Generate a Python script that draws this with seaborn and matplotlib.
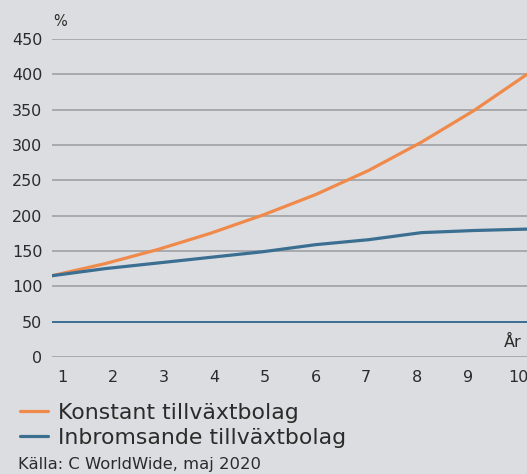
import matplotlib
matplotlib.use("Agg")
import matplotlib.pyplot as plt
from matplotlib.lines import Line2D
import pandas as pd
import seaborn as sns

years = [1, 2, 3, 4, 5, 6, 7, 8, 9, 10]
konstant = [115, 132, 152, 175, 201, 230, 264, 304, 349, 400]
inbromsande = [115, 125, 133, 141, 149, 159, 166, 176, 179, 181]
baseline = 50
yticks = [0, 50, 100, 150, 200, 250, 300, 350, 400, 450]
series_names = ["Konstant tillväxtbolag", "Inbromsande tillväxtbolag"]

ORANGE = "#f08a4b"
BLUE = "#3b6f92"
BG = "#dcdde0"
GRID = "#a8a9ac"
TEXT = "#2b2b2b"

sns.set_theme(style="white")
plt.rcParams["font.family"] = ["DejaVu Sans"]

df = pd.DataFrame({
    "År": years * 2,
    "Värde": konstant + inbromsande,
    "Serie": [series_names[0]] * len(years) + [series_names[1]] * len(years),
})

fig = plt.figure(figsize=(5.27, 4.74), dpi=100, facecolor=BG)
W, H = 527, 474
x0, x1 = 52, 527
ax = fig.add_axes([x0 / W, 1 - 357 / H, (x1 - x0) / W, (357 - 39) / H])
ax.set_facecolor(BG)

for y in yticks:
    ax.axhline(y, color=GRID, lw=1.4, zorder=1)
ax.axhline(baseline, color=BLUE, lw=1.4, zorder=2)

sns.lineplot(data=df, x="År", y="Värde", hue="Serie",
             palette=[ORANGE, BLUE], linewidth=2.3, ax=ax,
             legend=False, zorder=3)

ax.set_xlim(1, 10)
ax.set_ylim(0, 450)
ax.set_yticks(yticks)
ax.set_yticklabels([str(v) for v in yticks], fontsize=11.5, color=TEXT)

# year labels sit a little right of the data points, on a slightly tighter pitch
unit = (x1 - x0) / 9
label_pos = [1 + (10 + (i - 1) * 50.7) / unit for i in years]
ax.set_xticks(label_pos)
ax.set_xticklabels([str(v) for v in years], fontsize=11.5, color=TEXT)
ax.tick_params(axis="both", length=0)
ax.tick_params(axis="y", pad=7)
ax.tick_params(axis="x", pad=9)
for lbl in ax.get_xticklabels():
    lbl.set_clip_on(False)
for s in ax.spines.values():
    s.set_visible(False)
ax.set_xlabel("")
ax.set_ylabel("")

fig.text(53 / W, 1 - 21 / H, "%", fontsize=10.5, color=TEXT, ha="left", va="center")
fig.text(522 / W, 1 - 342 / H, "År", fontsize=11.5, color=TEXT, ha="right", va="center")

handles = [Line2D([0], [0], color=ORANGE, lw=2.3),
           Line2D([0], [0], color=BLUE, lw=2.3)]
fig.legend(handles, series_names, loc="upper left",
           bbox_to_anchor=(11 / W, 1 - 394 / H), frameon=False,
           fontsize=15.8, handlelength=1.3, handletextpad=0.45,
           labelspacing=0.22, borderaxespad=0, labelcolor=TEXT)

fig.text(18 / W, 1 - 469 / H, "Källa: C WorldWide, maj 2020",
         fontsize=11.8, color=TEXT, ha="left", va="baseline")

fig.savefig("out.png", dpi=100, facecolor=BG)
